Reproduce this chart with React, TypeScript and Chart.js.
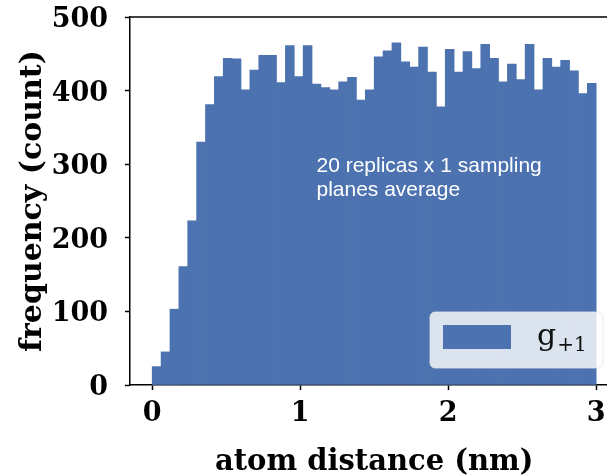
import React, { useEffect, useRef } from "react";
import { Chart, registerables } from "chart.js";

Chart.register(...registerables);

// ---- data ----
const BIN_START = 0;
const BIN_WIDTH = 0.06;
const COUNTS = [
  25, 45, 103, 161, 223, 330, 381, 419, 444, 443,
  401, 428, 448, 448, 411, 461, 419, 461, 409, 404,
  401, 412, 418, 387, 401, 446, 454, 465, 439, 432,
  459, 425, 378, 456, 425, 453, 430, 463, 444, 412,
  436, 415, 463, 401, 444, 432, 441, 427, 396, 410,
];
const X_MIN = -0.15;
const X_MAX = 3.073; // picture is cropped at the right
const X_TITLE_CENTER = 1.5; // centre of the full (uncropped) x range
const X_TICKS = [0, 1, 2, 3];
const Y_TICKS = [0, 100, 200, 300, 400, 500];
const X_TITLE = "atom distance (nm)";
const Y_TITLE = "frequency (count)";
const NOTE_LINES = ["20 replicas x 1 sampling", "planes average"];
const NOTE_AT = { x: 1.11, y: 289 };
const LEGEND_MAIN = "g";
const LEGEND_SUB = "+1";

const BAR_COLOR = "#4c72b0";
const SERIF = "'DejaVu Serif', serif";

const spinePlugin = {
  id: "spines",
  afterDraw(chart: any) {
    const { ctx, chartArea: a } = chart;
    ctx.save();
    ctx.strokeStyle = "#000";
    ctx.lineWidth = 1.5;
    ctx.beginPath();
    ctx.moveTo(a.left, a.top);
    ctx.lineTo(chart.width, a.top);
    ctx.stroke();
    ctx.restore();
  },
};

const xTitlePlugin = {
  id: "xTitle",
  afterDraw(chart: any) {
    const { ctx, scales } = chart;
    const x = scales.x.getPixelForValue(X_TITLE_CENTER);
    ctx.save();
    ctx.fillStyle = "#000";
    ctx.font = "bold 29px 'DejaVu Serif', serif";
    ctx.textAlign = "center";
    ctx.textBaseline = "alphabetic";
    ctx.fillText(X_TITLE, x, scales.x.bottom - 5);
    ctx.restore();
  },
};

const notePlugin = {
  id: "note",
  afterDatasetsDraw(chart: any) {
    const { ctx, scales } = chart;
    const x = scales.x.getPixelForValue(NOTE_AT.x);
    const y = scales.y.getPixelForValue(NOTE_AT.y);
    ctx.save();
    ctx.fillStyle = "#ffffff";
    ctx.font = "21px 'Liberation Sans', Arial, sans-serif";
    ctx.textAlign = "left";
    ctx.textBaseline = "alphabetic";
    NOTE_LINES.forEach((t, i) => ctx.fillText(t, x, y + i * 23.5));
    ctx.restore();
  },
};

const legendPlugin = {
  id: "customLegend",
  afterDraw(chart: any) {
    const { ctx, chartArea: a } = chart;
    const right = a.right - 4;
    const left = a.right - 177;
    const bottom = a.bottom - 17;
    const top = a.bottom - 73;
    ctx.save();
    ctx.beginPath();
    (ctx as any).roundRect(left, top, right - left, bottom - top, 5);
    ctx.fillStyle = "rgba(255,255,255,0.8)";
    ctx.fill();
    ctx.strokeStyle = "rgba(230,230,230,0.8)";
    ctx.lineWidth = 1;
    ctx.stroke();
    ctx.fillStyle = BAR_COLOR;
    ctx.fillRect(left + 13, top + 13, 68, 24);
    ctx.fillStyle = "#111";
    ctx.textAlign = "left";
    ctx.textBaseline = "alphabetic";
    ctx.font = "30px 'DejaVu Serif', serif";
    ctx.fillText(LEGEND_MAIN, left + 107, top + 33);
    const gw = ctx.measureText(LEGEND_MAIN).width;
    ctx.font = "20px 'DejaVu Serif', serif";
    ctx.fillText(LEGEND_SUB, left + 108 + gw, top + 39);
    ctx.restore();
  },
};

export default function App() {
  const ref = useRef<HTMLCanvasElement | null>(null);

  useEffect(() => {
    if (!ref.current) return;
    const points = COUNTS.map((c, i) => ({ x: BIN_START + BIN_WIDTH * (i + 0.5), y: c }));
    const tickFont = { family: SERIF, size: 27, weight: "bold" as const };
    const yTitleFont = { family: SERIF, size: 30, weight: "bold" as const, lineHeight: 1 };
    const chart = new Chart(ref.current, {
      type: "bar",
      data: {
        datasets: [
          {
            label: "g+1",
            data: points as any,
            backgroundColor: BAR_COLOR,
            borderWidth: 0,
            barPercentage: 1,
            categoryPercentage: 1,
          },
        ],
      },
      options: {
        animation: false,
        responsive: false,
        layout: { padding: { top: 17, right: 0, left: 0, bottom: 0 } },
        plugins: { legend: { display: false }, tooltip: { enabled: false } },
        scales: {
          x: {
            type: "linear",
            min: X_MIN,
            max: X_MAX,
            offset: false,
            afterBuildTicks: (s: any) => {
              s.ticks = X_TICKS.map((v) => ({ value: v }));
            },
            afterFit: (s: any) => {
              s.height = 90;
              s.paddingLeft = 0;
              s.paddingRight = 0;
            },
            grid: {
              display: true,
              drawOnChartArea: false,
              drawTicks: true,
              color: "rgba(0,0,0,0)",
              tickLength: 5,
              tickWidth: 1.5,
              tickColor: "#000",
              offset: false,
            },
            border: { display: true, color: "#000", width: 1.5 },
            ticks: {
              font: tickFont,
              color: "#000",
              padding: 8,
              maxRotation: 0,
              autoSkip: false,
              callback: (v: any) => String(v),
            },
            title: { display: false },
          },
          y: {
            type: "linear",
            min: 0,
            max: 500,
            afterBuildTicks: (s: any) => {
              s.ticks = Y_TICKS.map((v) => ({ value: v }));
            },
            afterFit: (s: any) => {
              s.width = 130;
              s.paddingTop = 0;
              s.paddingBottom = 0;
            },
            grid: {
              display: true,
              drawOnChartArea: false,
              drawTicks: true,
              color: "rgba(0,0,0,0)",
              tickLength: 5,
              tickWidth: 1.5,
              tickColor: "#000",
            },
            border: { display: true, color: "#000", width: 1.5 },
            ticks: {
              font: tickFont,
              color: "#000",
              padding: 17,
              labelOffset: 3,
              autoSkip: false,
              callback: (v: any) => String(v),
            },
            title: {
              display: true,
              text: Y_TITLE,
              font: yTitleFont,
              color: "#000",
              padding: { top: 18, bottom: 0 },
            },
          },
        },
      },
      plugins: [notePlugin, spinePlugin, legendPlugin, xTitlePlugin],
    });
    return () => chart.destroy();
  }, []);

  return (
    <div
      style={{
        position: "fixed",
        left: 0,
        top: 0,
        width: 607,
        height: 475,
        overflow: "hidden",
        background: "#fff",
      }}
    >
      <canvas ref={ref} width={607} height={475} style={{ display: "block" }} />
    </div>
  );
}
